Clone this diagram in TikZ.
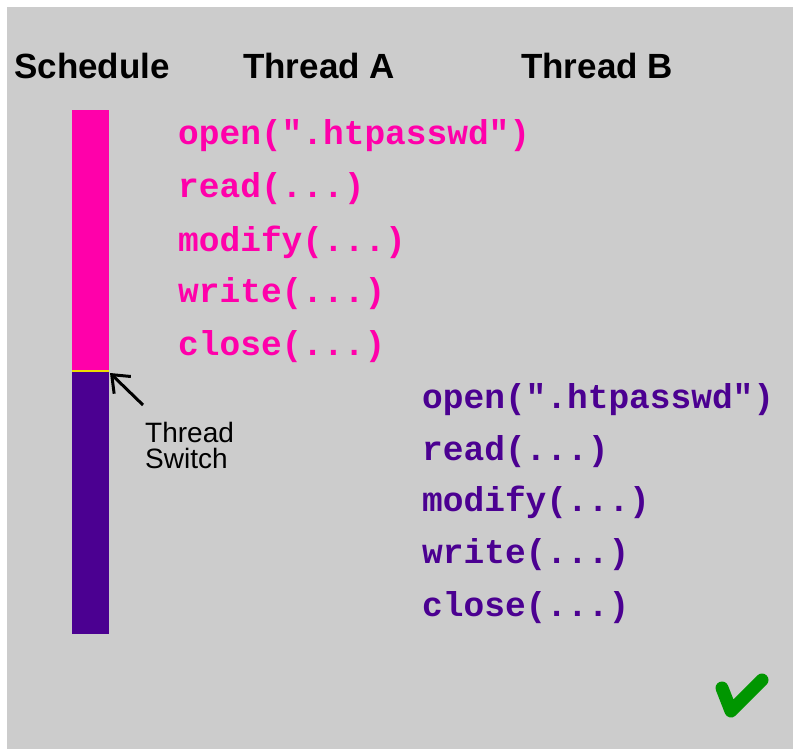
\documentclass[tikz,border=0pt]{standalone}
\usepackage{fontspec}
\setmainfont{Liberation Sans}
\newfontfamily\codefont{Liberation Mono}
\usetikzlibrary{arrows.meta}
\definecolor{bg}{RGB}{204,204,204}
\definecolor{pinkA}{RGB}{255,0,170}
\definecolor{purpB}{RGB}{75,0,145}
\definecolor{swy}{RGB}{240,220,0}
\definecolor{okgreen}{RGB}{0,150,0}
\tikzset{
  hdr/.style={anchor=west,inner sep=0pt,font=\fontsize{35}{35}\selectfont\bfseries},
  codeA/.style={anchor=west,inner sep=0pt,text=pinkA,font=\fontsize{34.5}{34.5}\selectfont\codefont\bfseries},
  codeB/.style={anchor=west,inner sep=0pt,text=purpB,font=\fontsize{34.5}{34.5}\selectfont\codefont\bfseries},
}
\begin{document}
\begin{tikzpicture}[x=1pt,y=-1pt]
\useasboundingbox (0,0) rectangle (793,749);
\fill[white] (0,0) rectangle (793,749);
\fill[bg] (7,7) rectangle (793,749);
% headers
\node[hdr] (hs) at (14,66) {Schedule};
\node[hdr] (ha) at (243,66) {Thread A};
\node[hdr] (hb) at (521,66) {Thread B};
% schedule bar
\fill[pinkA] (72,110) rectangle (109,371) node[pos=0.5] (barA) {};
\fill[purpB] (72,371) rectangle (109,634) node[pos=0.5] (barB) {};
\draw[swy,line width=2.5pt] (72,371) -- (109,371);
\coordinate (sw) at (110,373);
% thread A
\node[codeA] (a1) at (178,136) {open(".htpasswd")};
\node[codeA] (a2) at (178,189) {read(...)};
\node[codeA] (a3) at (178,242) {modify(...)};
\node[codeA] (a4) at (178,294) {write(...)};
\node[codeA] (a5) at (178,347) {close(...)};
% thread B
\node[codeB] (b1) at (422,400) {open(".htpasswd")};
\node[codeB] (b2) at (422,452) {read(...)};
\node[codeB] (b3) at (422,502) {modify(...)};
\node[codeB] (b4) at (422,555) {write(...)};
\node[codeB] (b5) at (422,608) {close(...)};
% thread switch label and arrow
\node[anchor=north west,inner sep=0pt,align=left,font=\fontsize{28}{26}\selectfont] (tsw) at (145,422) {Thread\\Switch};
\coordinate (tswtail) at (143,405);
\draw[line width=3pt,-{Straight Barb[length=15pt,width=24pt]}] (tswtail) -- (sw);
% check mark
\draw[okgreen,line width=13pt,line cap=round,line join=round] (722,688) -- (731,711) -- (762,680);
\end{tikzpicture}
\end{document}
